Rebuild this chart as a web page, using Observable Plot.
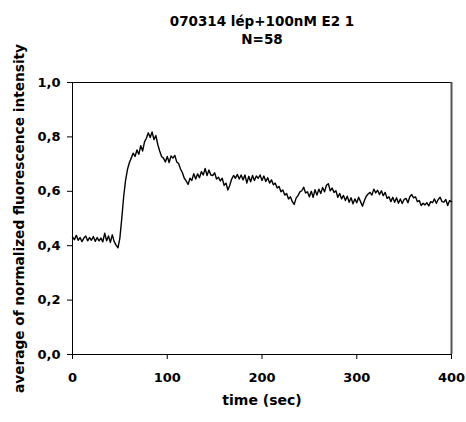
<!DOCTYPE html>
<html>
<head>
<meta charset="utf-8">
<script src="https://cdn.jsdelivr.net/npm/d3@7"></script>
<script src="https://cdn.jsdelivr.net/npm/@observablehq/plot@0.6"></script>
<style>
  body { margin: 0; background: #fff; }
</style>
</head>
<body>
<div id="chart"></div>
<script>
const titleLine1 = "070314 lép+100nM E2 1";
const titleLine2 = "N=58";
const xLabel = "time (sec)";
const yLabel = "average of normalized fluorescence intensity";
const xTicks = [0, 100, 200, 300, 400];
const yTicks = [0, 0.2, 0.4, 0.6, 0.8, 1.0];
const sampleInterval = 2; // seconds between readings

const intensity = [
  0.432,0.422,0.438,0.420,0.430,0.415,0.428,0.436,0.418,0.430,
  0.420,0.434,0.416,0.430,0.418,0.428,0.414,0.446,0.418,0.436,
  0.412,0.440,0.415,0.402,0.392,0.428,0.500,0.580,0.640,0.680,
  0.705,0.722,0.740,0.728,0.752,0.736,0.768,0.748,0.782,0.795,
  0.815,0.798,0.818,0.790,0.805,0.772,0.748,0.728,0.722,0.708,
  0.728,0.706,0.730,0.722,0.732,0.708,0.702,0.682,0.668,0.648,
  0.638,0.625,0.648,0.640,0.665,0.645,0.664,0.650,0.672,0.660,
  0.684,0.658,0.678,0.660,0.658,0.668,0.645,0.652,0.638,0.648,
  0.622,0.630,0.605,0.622,0.645,0.658,0.648,0.662,0.645,0.660,
  0.642,0.660,0.630,0.655,0.635,0.658,0.640,0.656,0.648,0.660,
  0.640,0.656,0.636,0.650,0.630,0.642,0.624,0.630,0.612,0.618,
  0.598,0.605,0.586,0.592,0.572,0.580,0.562,0.552,0.575,0.584,
  0.598,0.602,0.615,0.594,0.598,0.580,0.600,0.578,0.606,0.586,
  0.608,0.592,0.614,0.598,0.622,0.628,0.602,0.612,0.596,0.602,
  0.578,0.592,0.572,0.585,0.566,0.582,0.560,0.576,0.554,0.572,
  0.558,0.578,0.562,0.545,0.565,0.582,0.590,0.596,0.586,0.608,
  0.594,0.604,0.588,0.602,0.584,0.596,0.574,0.580,0.562,0.578,
  0.560,0.576,0.556,0.572,0.555,0.570,0.574,0.558,0.580,0.588,
  0.576,0.580,0.562,0.566,0.548,0.556,0.550,0.558,0.546,0.562,
  0.558,0.572,0.556,0.570,0.578,0.562,0.560,0.570,0.548,0.566,
  0.562
];

const data = intensity.map((v, i) => ({time: i * sampleInterval, value: v}));
const commaFmt = d => d.toFixed(1).replace(".", ",");

const chart = Plot.plot({
  width: 466,
  height: 422,
  marginLeft: 72,
  marginRight: 15,
  marginTop: 82,
  marginBottom: 68,
  style: {fontFamily: "'DejaVu Sans', sans-serif", fontWeight: "bold", fontSize: "13px", color: "#000", background: "#fff"},
  x: {domain: [0, 400]},
  y: {domain: [0, 1]},
  marks: [
    Plot.axisX({ticks: xTicks, tickSize: 5, tickPadding: 13, label: null, fontSize: 13}),
    Plot.axisY({ticks: yTicks, tickFormat: commaFmt, tickSize: 5, tickPadding: 7, label: null, fontSize: 13}),
    Plot.ruleX([0], {stroke: "#000"}),
    Plot.ruleY([0], {stroke: "#000"}),
    Plot.ruleY([1], {stroke: "#000"}),
    Plot.ruleX([400], {stroke: "#555", strokeWidth: 2}),
    Plot.line(data, {x: "time", y: "value", stroke: "#000", strokeWidth: 1.4}),
    Plot.text([titleLine1], {frameAnchor: "top", text: d => d, dy: -66, fontSize: 13.5, fontWeight: "bold"}),
    Plot.text([titleLine2], {frameAnchor: "top", text: d => d, dy: -48.5, fontSize: 13.5, fontWeight: "bold"}),
    Plot.text([xLabel], {frameAnchor: "bottom", text: d => d, dy: 50.5, fontSize: 14, fontWeight: "bold"}),
    Plot.text([yLabel], {frameAnchor: "left", textAnchor: "middle", text: d => d, dx: -53, rotate: -90, fontSize: 13.7, fontWeight: "bold"})
  ]
});
document.getElementById("chart").appendChild(chart);
</script>
</body>
</html>
